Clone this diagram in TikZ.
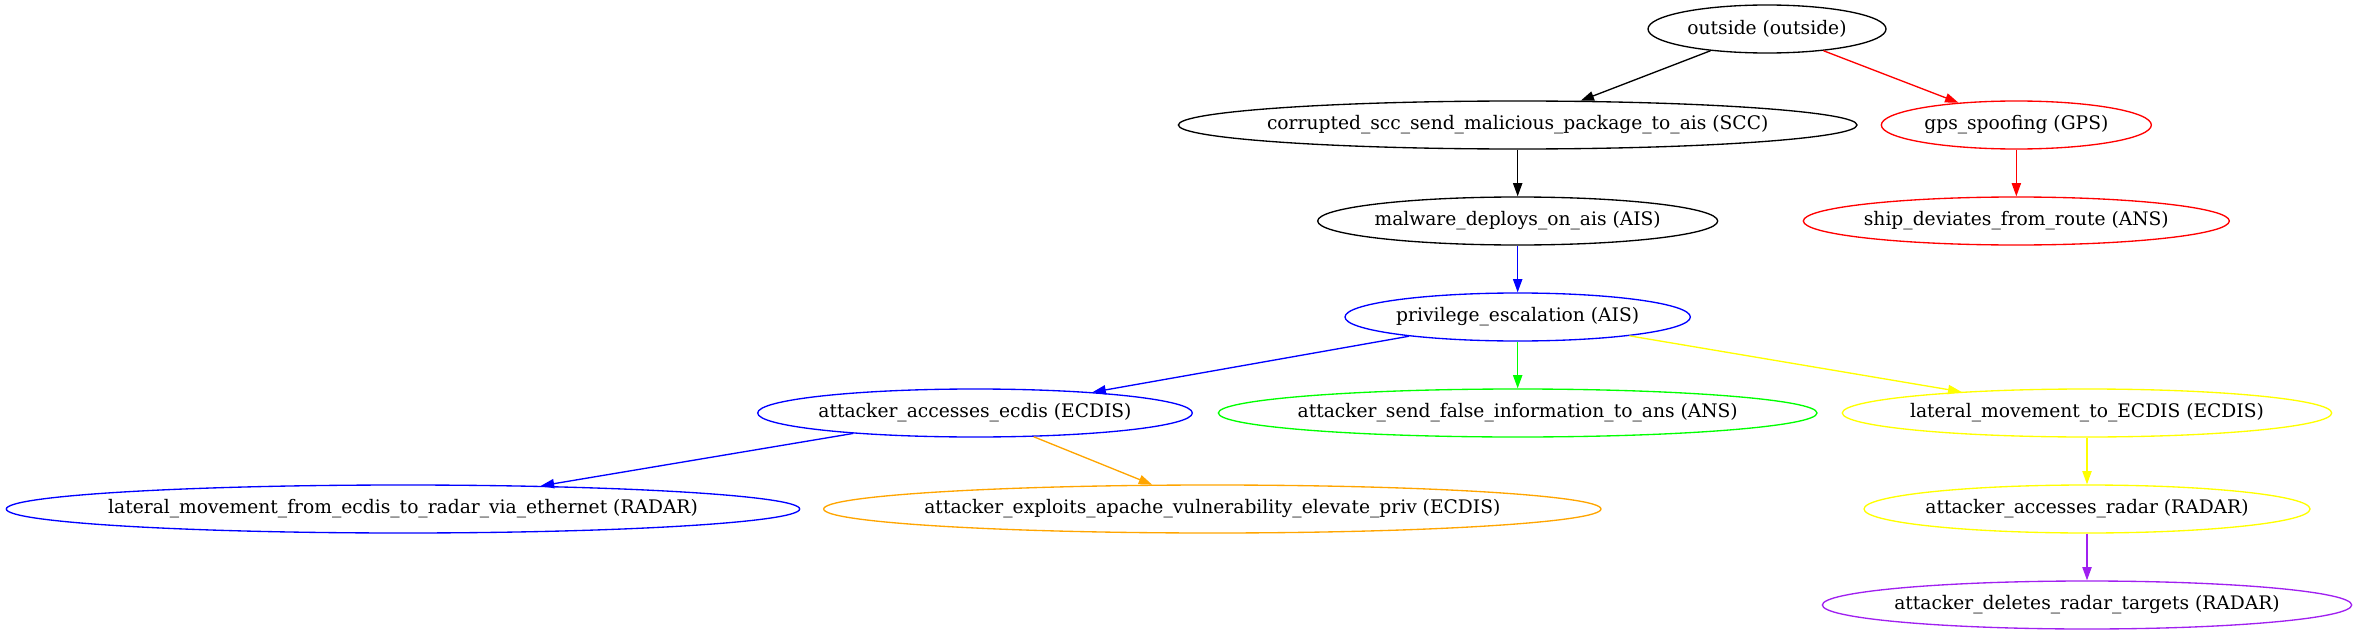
\documentclass[tikz,border=0pt]{standalone}
\usepackage{fontspec}
\setmainfont{DejaVu Serif}
\usetikzlibrary{shapes.geometric, arrows.meta}
\definecolor{gvgreen}{RGB}{0,255,0}
\definecolor{gvyellow}{RGB}{255,255,0}
\definecolor{gvorange}{RGB}{255,165,0}
\definecolor{gvpurple}{RGB}{160,32,240}
\newcommand{\steplabel}[1]{\makebox[0pt]{#1}}

\begin{document}
\begin{tikzpicture}[node distance={72pt}, line width=1pt, >={Triangle[length=10pt, width=7pt]},
        main/.style = {draw, ellipse, inner sep=0pt, minimum height=36pt, font=\fontsize{14pt}{17pt}\selectfont}]
        \useasboundingbox (0,0) rectangle (1764.75pt,-476.25pt);
        \node[main, minimum width=178.5pt] (outside) at (1325.25pt,-21.75pt) {\steplabel{outside (outside)}};
        \node[main, minimum width=509pt] (scc) [below of = outside, xshift=-187pt] {\steplabel{corrupted\_scc\_send\_malicious\_package\_to\_ais (SCC)}};
        \node[main, draw=red, minimum width=202.5pt] (gps) [below of = outside, xshift=187pt] {\steplabel{gps\_spoofing (GPS)}};
        \node[main, minimum width=300pt] (malware) [below of = scc] {\steplabel{malware\_deploys\_on\_ais (AIS)}};
        \node[main, draw=red, minimum width=319.5pt] (ship) [below of = gps] {\steplabel{ship\_deviates\_from\_route (ANS)}};
        \node[main, draw=blue, minimum width=259pt] (priv) [below of = malware] {\steplabel{privilege\_escalation (AIS)}};
        \node[main, draw=blue, minimum width=326pt] (ecdis) [below of = priv, xshift=-407pt] {\steplabel{attacker\_accesses\_ecdis (ECDIS)}};
        \node[main, draw=gvgreen, minimum width=449pt] (falseinfo) [below of = priv] {\steplabel{attacker\_send\_false\_information\_to\_ans (ANS)}};
        \node[main, draw=gvyellow, minimum width=367pt] (lateral) [below of = priv, xshift=427pt] {\steplabel{lateral\_movement\_to\_ECDIS (ECDIS)}};
        \node[main, draw=blue, minimum width=595pt] (ethernet) [below of = ecdis, xshift=-429pt] {\steplabel{lateral\_movement\_from\_ecdis\_to\_radar\_via\_ethernet (RADAR)}};
        \node[main, draw=gvorange, minimum width=583pt] (apache) [below of = ecdis, xshift=178pt] {\steplabel{attacker\_exploits\_apache\_vulnerability\_elevate\_priv (ECDIS)}};
        \node[main, draw=gvyellow, minimum width=334.5pt] (radar) [below of = lateral] {\steplabel{attacker\_accesses\_radar (RADAR)}};
        \node[main, draw=gvpurple, minimum width=397pt] (targets) [below of = radar] {\steplabel{attacker\_deletes\_radar\_targets (RADAR)}};

        \draw[->] (outside) -- (scc);
        \draw[->, red] (outside) -- (gps);
        \draw[->] (scc) -- (malware);
        \draw[->, red] (gps) -- (ship);
        \draw[->, blue] (malware) -- (priv);
        \draw[->, blue] (priv) -- (ecdis);
        \draw[->, gvgreen] (priv) -- (falseinfo);
        \draw[->, gvyellow] (priv) -- (lateral);
        \draw[->, blue] (ecdis) -- (ethernet);
        \draw[->, gvorange] (ecdis) -- (apache);
        \draw[->, gvyellow] (lateral) -- (radar);
        \draw[->, gvpurple] (radar) -- (targets);

    \end{tikzpicture}
\end{document}
